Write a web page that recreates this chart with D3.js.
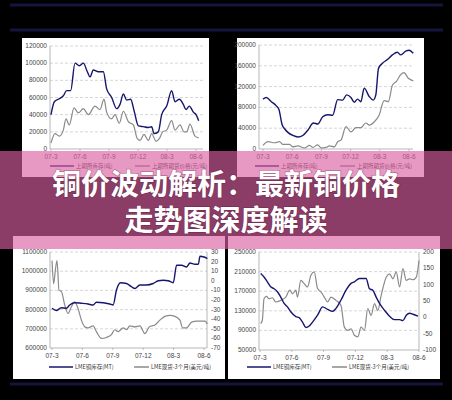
<!DOCTYPE html>
<html><head><meta charset="utf-8">
<script src="https://cdn.jsdelivr.net/npm/d3@7"></script>
<style>body{margin:0;background:#000}svg{display:block}</style>
</head><body><svg id="c" width="452" height="400"></svg>
<script>
const xTickLabels = ["07-3","07-6","07-9","07-12","08-3","08-6"];
const tlTicksT = [153,240,327,414,501,588];
const tlBlue = [[153,40000],[163,55000],[175,58000],[190,62000],[200,68000],[212,68000],[225,100000],[238,97000],[250,100000],[262,90000],[270,84000],[280,92000],[295,90000],[310,90000],[320,70000],[335,60000],[350,47000],[360,52000],[370,64000],[380,57000],[392,58000],[402,45000],[415,27000],[430,26000],[445,25000],[455,26000],[462,18000],[475,20000],[485,40000],[500,50000],[515,68000],[525,55000],[538,58000],[550,52000],[558,46000],[568,50000],[580,43000],[588,40000],[596,33000]];
const tlGray = [[153,7000],[165,18000],[178,15000],[190,22000],[198,35000],[208,28000],[222,48000],[235,42000],[250,47000],[265,40000],[285,50000],[300,46000],[312,58000],[320,43000],[335,35000],[345,40000],[358,30000],[370,44000],[385,32000],[400,28000],[412,12000],[420,10000],[432,17000],[445,10000],[455,18000],[468,9000],[478,12000],[488,20000],[500,22000],[515,33000],[525,22000],[540,28000],[552,20000],[560,20000],[570,29000],[585,15000],[596,13000]];
const tlYTicks = [0,20000,40000,60000,80000,100000,120000];
const trTicksT = [110,198,286,374,462,550];
const trBlue = [[110,96000],[120,99000],[135,91000],[150,83000],[158,76000],[168,46000],[175,39000],[185,32000],[200,26000],[215,23000],[230,26000],[245,36000],[262,50000],[275,48000],[290,62000],[305,66000],[320,65000],[335,95000],[350,94000],[362,104000],[375,99000],[385,90000],[395,96000],[405,91000],[415,117000],[430,101000],[442,94000],[450,104000],[458,155000],[470,165000],[485,172000],[500,181000],[515,186000],[525,181000],[540,188000],[550,190000],[563,184000]];
const trGray = [[110,7000],[125,14000],[145,12000],[160,14000],[170,9000],[190,9000],[200,4000],[215,6000],[235,2000],[250,7000],[260,3000],[275,8000],[285,2000],[300,3000],[310,6000],[325,4000],[335,14000],[345,17000],[360,43000],[375,33000],[390,41000],[405,41000],[420,50000],[430,46000],[445,52000],[460,65000],[475,93000],[488,91000],[500,123000],[512,130000],[525,143000],[535,147000],[548,136000],[563,131000]];
const trYTicks = [0,40000,80000,120000,160000,200000];
const blTicksT = [157,248,339,430,521,612];
const blBlue = [[157,807000],[170,795000],[185,810000],[200,807000],[210,824000],[225,836000],[245,833000],[265,829000],[280,824000],[290,838000],[310,836000],[330,829000],[340,824000],[350,902000],[362,940000],[380,936000],[395,919000],[405,910000],[420,928000],[440,928000],[460,936000],[475,950000],[490,953000],[505,950000],[520,940000],[530,1031000],[545,1031000],[560,1022000],[570,1043000],[585,1036000],[595,1036000],[600,1078000],[612,1074000],[622,1066000]];
const blGray = [[157,21],[162,-3],[167,11],[172,21],[178,-10],[185,-11],[195,-25],[205,-34],[215,-27],[225,-22],[235,-29],[245,-41],[255,-48],[265,-49],[280,-47],[290,-53],[305,-60],[320,-59],[335,-56],[345,-51],[355,-53],[370,-49],[380,-51],[390,-47],[405,-48],[420,-47],[435,-55],[448,-48],[465,-46],[480,-41],[495,-37],[510,-36],[525,-37],[540,-41],[548,-49],[560,-49],[575,-43],[590,-42],[600,-42],[615,-42],[622,-45]];
const blYTicks = [600000,700000,800000,900000,1000000,1100000];
const blRTicks = [-70,-60,-50,-40,-30,-20,-10,0,10,20,30];
const blLegend = ["LME铜库存(MT)","LME现货-3个月(美元/吨)"];
const brTicksT = [103,198,293,388,483,578];
const brBlue = [[105,206000],[115,199000],[125,189000],[135,179000],[145,175000],[155,169000],[165,158000],[175,145000],[185,138000],[195,128000],[210,118000],[220,116000],[230,107000],[240,96000],[250,99000],[260,107000],[275,121000],[290,138000],[305,133000],[320,129000],[330,135000],[345,152000],[360,172000],[375,186000],[385,189000],[400,196000],[420,196000],[430,175000],[440,172000],[450,158000],[460,145000],[475,131000],[490,119000],[505,112000],[520,112000],[530,110000],[540,121000],[550,125000],[560,123000],[575,119000]];
const brGray = [[105,-19],[110,-9],[115,57],[122,64],[130,57],[140,60],[150,47],[165,52],[180,62],[192,83],[200,72],[210,83],[215,62],[225,113],[235,103],[245,93],[255,129],[265,139],[275,88],[285,78],[295,62],[305,47],[315,62],[330,52],[345,36],[355,-30],[365,-40],[375,-35],[385,-55],[395,-60],[405,-30],[415,-40],[425,27],[435,6],[445,42],[455,21],[465,67],[480,123],[490,133],[500,118],[510,139],[520,93],[530,149],[540,113],[550,118],[560,115],[570,123],[578,174]];
const brYTicks = [50000,90000,130000,170000,210000,250000];
const brRTicks = [-100,-50,0,50,100,150,200];
const brLegend = ["LME铜库存(MT)","LME现货-3个月(美元/吨)"];
const topLegend = ["上期所库存(吨)","上期所期货价格(元/吨)"];
const titleLines = ["铜价波动解析：最新铜价格","走势图深度解读"];

const svg = d3.select("#c");
const FONT = "Liberation Sans, Arial, sans-serif";
[[10,5,443],[10,30,443],[10,384,443]].forEach(s=>svg.append("rect").attr("x",s[0]).attr("y",s[1]-1.5).attr("width",s[2]-s[0]).attr("height",3).attr("fill","#14143c"));

function panel(p){
  const g = svg.append("g");
  g.append("rect").attr("x",p.box[0]).attr("y",p.box[1]).attr("width",p.box[2]-p.box[0]).attr("height",p.box[3]-p.box[1]).attr("fill","#fff");
  const x = d3.scaleLinear().domain([p.ticksT[0],p.ticksT[5]]).range([p.xr[0],p.xr[1]]);
  const y = d3.scaleLinear().domain([p.yTicks[0],p.yTicks[p.yTicks.length-1]]).range([p.yr[0],p.yr[1]]);
  p.yTicks.forEach((t,i)=>{
    if(i>0) g.append("line").attr("x1",p.plot[0]).attr("x2",p.plot[1]).attr("y1",y(t)).attr("y2",y(t)).attr("stroke","#bbb").attr("stroke-width",0.6).attr("stroke-dasharray","3,2");
    g.append("text").attr("x",p.plot[0]-3).attr("y",y(t)+2).attr("text-anchor","end").attr("font-size",6.5).attr("font-family",FONT).attr("fill","#444").text(d3.format("d")(t));
  });
  g.append("line").attr("x1",p.plot[0]).attr("x2",p.plot[1]).attr("y1",p.yr[0]).attr("y2",p.yr[0]).attr("stroke","#999").attr("stroke-width",0.7);
  g.append("line").attr("x1",p.plot[0]).attr("x2",p.plot[0]).attr("y1",p.yr[0]).attr("y2",p.yr[1]).attr("stroke","#999").attr("stroke-width",0.7);
  p.ticksT.forEach((t,i)=>{
    g.append("line").attr("x1",x(t)).attr("x2",x(t)).attr("y1",p.yr[0]).attr("y2",p.yr[0]+2).attr("stroke","#999").attr("stroke-width",0.6);
    g.append("text").attr("x",x(t)).attr("y",p.yr[0]+10).attr("text-anchor","middle").attr("font-size",6.5).attr("font-family",FONT).attr("fill","#444").text(xTickLabels[i]);
  });
  let yR = y;
  if(p.rTicks){
    yR = d3.scaleLinear().domain([p.rTicks[0],p.rTicks[p.rTicks.length-1]]).range([p.yr[0],p.yr[1]]);
    g.append("line").attr("x1",p.plot[1]).attr("x2",p.plot[1]).attr("y1",p.yr[0]).attr("y2",p.yr[1]).attr("stroke","#999").attr("stroke-width",0.7);
    p.rTicks.forEach(t=>g.append("text").attr("x",p.plot[1]+4).attr("y",yR(t)+2).attr("font-size",6.5).attr("font-family",FONT).attr("fill","#444").text(t));
  }
  const line = (ys)=>d3.line().x(d=>x(d[0])).y(d=>ys(d[1])).curve(d3.curveMonotoneX);
  g.append("path").attr("d",line(yR)(p.gray)).attr("fill","none").attr("stroke","#8a8a8a").attr("stroke-width",1.2);
  g.append("path").attr("d",line(y)(p.blue)).attr("fill","none").attr("stroke","#16166e").attr("stroke-width",1.4);
  const ly=p.legY, lx=p.legX;
  g.append("line").attr("x1",lx).attr("x2",lx+24).attr("y1",ly).attr("y2",ly).attr("stroke","#16166e").attr("stroke-width",1.5);
  g.append("text").attr("x",lx+26).attr("y",ly+2).attr("font-size",5.5).attr("font-family","Noto Sans CJK SC").attr("fill","#333").text(p.legend[0]);
  g.append("line").attr("x1",lx+85).attr("x2",lx+100).attr("y1",ly).attr("y2",ly).attr("stroke","#8a8a8a").attr("stroke-width",1.5);
  g.append("text").attr("x",lx+102).attr("y",ly+2).attr("font-size",5.5).attr("font-family","Noto Sans CJK SC").attr("fill","#333").text(p.legend[1]);
}
panel({box:[22,38,209,177],plot:[50,203],xr:[51,196],yr:[149,46],ticksT:tlTicksT,yTicks:tlYTicks,blue:tlBlue,gray:tlGray,legend:topLegend,legX:50,legY:166});
panel({box:[237,38,424,177],plot:[259,413],xr:[263,409],yr:[149,45],ticksT:trTicksT,yTicks:trYTicks,blue:trBlue,gray:trGray,legend:topLegend,legX:255,legY:166});
panel({box:[13,236,225,379],plot:[50,207],xr:[52,204],yr:[348,252],ticksT:blTicksT,yTicks:blYTicks,rTicks:blRTicks,blue:blBlue,gray:blGray,legend:blLegend,legX:49,legY:367});
panel({box:[228,236,440,379],plot:[259,419],xr:[260,419],yr:[350,252],ticksT:brTicksT,yTicks:brYTicks,rTicks:brRTicks,blue:brBlue,gray:brGray,legend:brLegend,legX:247,legY:367});

svg.append("rect").attr("x",0).attr("y",151).attr("width",452).attr("height",98).attr("fill","rgb(219,96,161)").attr("fill-opacity",0.64);
titleLines.forEach((t,i)=>{
  svg.append("text").attr("x",226).attr("y",[195,231][i]).attr("text-anchor","middle").attr("font-size",29).attr("font-weight","bold").attr("font-family","Noto Sans CJK SC").attr("fill","#fff").style("paint-order","stroke").attr("stroke","rgba(80,20,50,0.35)").attr("stroke-width",1.5).text(t);
});
</script></body></html>
